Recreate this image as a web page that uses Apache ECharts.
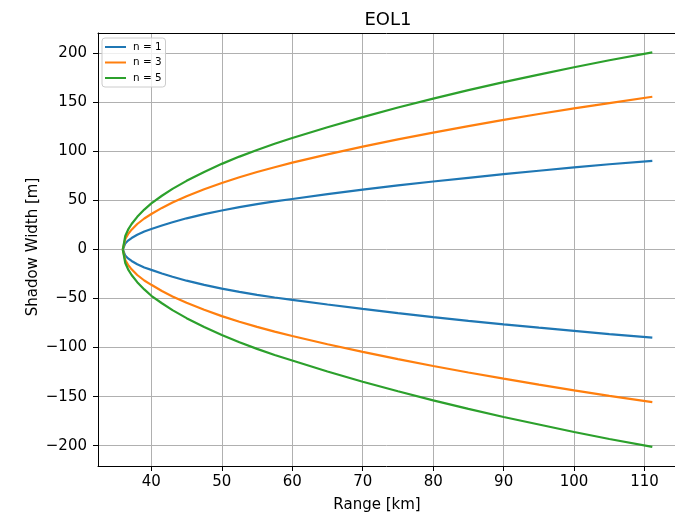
<!DOCTYPE html>
<html>
<head>
<meta charset="utf-8">
<script src="https://cdn.jsdelivr.net/npm/echarts@6/dist/echarts.min.js"></script>
<style>
  html, body { margin: 0; padding: 0; background: #fff; }
  #chart { width: 675px; height: 515px; }
</style>
</head>
<body>
<div id="chart"></div>
<script>
// Range samples [km]
const rangeKm = [35.95, 36.3, 36.7, 37.2, 38, 39, 40, 41.5, 43, 45, 47.5, 50, 52.5, 55, 57.5,
                 60, 65, 70, 75, 80, 85, 90, 95, 100, 105, 111.1];

// Shadow edges [m], upper and lower, per n
const n1Upper = [0, 6.2, 9.1, 11.7, 15, 18.3, 20.9, 24.5, 27.8, 31.8, 36, 39.8, 43.2, 46.3, 49.0,
                 51.5, 56.4, 61, 65.3, 69.3, 73.1, 76.8, 80.3, 83.7, 86.9, 90.3];
const n1Lower = [0, -6.2, -9.1, -11.7, -15, -18.3, -20.8, -24.5, -27.8, -31.8, -36, -39.9, -43.2, -46.2, -48.9,
                 -51.3, -56.1, -60.6, -64.9, -68.9, -72.7, -76.3, -79.7, -83, -86.3, -89.8];
const n3Upper = [0, 10.7, 15.6, 20.2, 26, 31.6, 36.2, 42.4, 47.9, 54.3, 61.4, 67.8, 73.6, 79, 83.9,
                 88.5, 97, 104.9, 112.3, 119.2, 125.8, 132.1, 138.1, 143.8, 149.3, 155.7];
const n3Lower = [0, -10.7, -15.6, -20.2, -26, -31.6, -36, -42.3, -47.9, -54.3, -61.4, -67.9, -73.6, -78.9, -83.7,
                 -88.2, -96.6, -104.4, -111.8, -118.8, -125.4, -131.7, -137.8, -143.6, -149.2, -155.5];
const n5Upper = [0, 13.8, 20.2, 26, 33.3, 40.7, 47, 54.8, 61.8, 70, 79, 87.3, 94.7, 101.5, 107.8,
                 113.6, 124.6, 135, 144.7, 153.8, 162.4, 170.6, 178.3, 185.8, 192.9, 201];
const n5Lower = [0, -13.8, -20.2, -26, -33.3, -40.7, -47.2, -54.8, -61.8, -70, -79, -87.2, -94.5, -101.3, -107.5,
                 -113.2, -124.3, -134.8, -144.5, -153.8, -162.4, -170.7, -178.4, -186, -193.2, -201.2];

const seriesNames = ['n = 1', 'n = 3', 'n = 5'];
const seriesColors = ['#1f77b4', '#ff7f0e', '#2ca02c'];

const xTicks = [40, 50, 60, 70, 80, 90, 100, 110];
const yTicks = [-200, -150, -100, -50, 0, 50, 100, 150, 200];

const FONT = 'DejaVu Sans';

function pairs(xs, ys) {
  return xs.map((x, i) => [x, ys[i]]);
}

function lineSeries(name, color, ys) {
  return {
    type: 'line',
    name: name,
    data: pairs(rangeKm, ys),
    showSymbol: false,
    symbol: 'none',
    smooth: false,
    lineStyle: { color: color, width: 2.2 },
    itemStyle: { color: color },
    emphasis: { disabled: true },
    animation: false
  };
}

const halves = [[n1Upper, n1Lower], [n3Upper, n3Lower], [n5Upper, n5Lower]];
const series = [];
halves.forEach((pair, i) => {
  series.push(lineSeries(seriesNames[i], seriesColors[i], pair[0]));
  series.push(lineSeries(seriesNames[i], seriesColors[i], pair[1]));
});

const minusFmt = v => (v < 0 ? '\u2212' + Math.abs(v) : String(v));

// visible part of the x range; the plot frame continues past the right edge of the page
const X_MIN = 32.43, X_MAX = 114.32;

const chart = echarts.init(document.getElementById('chart'), null, { renderer: 'canvas' });
chart.setOption({
  backgroundColor: '#ffffff',
  animation: false,
  grid: {
    left: 98, top: 33, right: 0, bottom: 49,
    outerBoundsMode: 'none',
    containLabel: false,
    show: false
  },
  xAxis: [{
    type: 'value',
    min: X_MIN, max: X_MAX,
    axisLine: { show: true, onZero: false, lineStyle: { color: '#000', width: 1 } },
    axisTick: { show: true, inside: false, length: 5, customValues: xTicks, lineStyle: { color: '#000', width: 1 } },
    axisLabel: { customValues: xTicks, margin: 9, color: '#000', fontFamily: FONT, fontSize: 15 },
    splitLine: { show: true, customValues: xTicks, lineStyle: { color: '#b0b0b0', width: 1 } }
  }, {
    // top frame edge
    type: 'value',
    position: 'top',
    min: X_MIN, max: X_MAX,
    axisLine: { show: true, onZero: false, lineStyle: { color: '#000', width: 1 } },
    axisTick: { show: false },
    axisLabel: { show: false },
    splitLine: { show: false }
  }],
  yAxis: {
    type: 'value',
    min: -220.7, max: 220.7,
    axisLine: { show: true, onZero: false, lineStyle: { color: '#000', width: 1 } },
    axisTick: { show: true, inside: false, length: 5, customValues: yTicks, lineStyle: { color: '#000', width: 1 } },
    axisLabel: { customValues: yTicks, margin: 11, color: '#000', fontFamily: FONT, fontSize: 15, formatter: minusFmt },
    splitLine: { show: true, customValues: yTicks, lineStyle: { color: '#b0b0b0', width: 1 } }
  },
  legend: {
    data: seriesNames,
    orient: 'vertical',
    left: 102, top: 38,
    icon: 'rect',
    itemWidth: 21, itemHeight: 2, itemGap: 3.5,
    padding: [3, 4, 3, 3],
    backgroundColor: 'rgba(255,255,255,0.8)',
    borderColor: '#cccccc', borderWidth: 1, borderRadius: 3,
    textStyle: { fontFamily: FONT, fontSize: 10.4, lineHeight: 12, color: '#000', padding: [0, 0, 0, 2] },
    selectedMode: false
  },
  graphic: [
    { type: 'text', x: 388, y: 20, style: { text: 'EOL1', font: '18px "DejaVu Sans"', fill: '#000', textAlign: 'center', textVerticalAlign: 'middle' } },
    { type: 'text', x: 377, y: 505, style: { text: 'Range [km]', font: '15px "DejaVu Sans"', fill: '#000', textAlign: 'center', textVerticalAlign: 'middle' } },
    { type: 'text', x: 33, y: 247, rotation: Math.PI / 2, style: { text: 'Shadow Width [m]', font: '15px "DejaVu Sans"', fill: '#000', textAlign: 'center', textVerticalAlign: 'middle' } }
  ],
  series: series
});
</script>
</body>
</html>
